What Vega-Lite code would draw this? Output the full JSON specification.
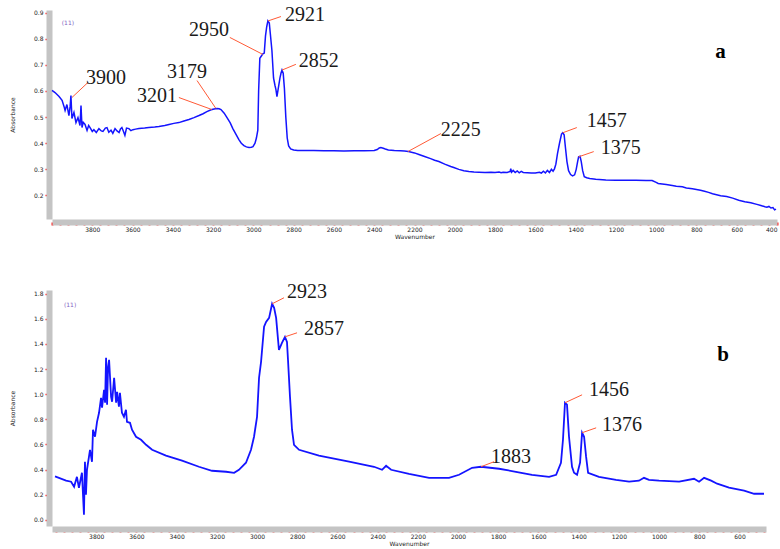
{
  "$schema": "https://vega.github.io/schema/vega-lite/v6.json",
  "background": "white",
  "padding": {"left": 9, "top": 5, "right": 0, "bottom": 0},
  "spacing": 71,
  "bounds": "flush",
  "config": {
    "view": {"stroke": null},
    "axis": {
      "grid": false,
      "labelFont": "DejaVu Sans",
      "labelFontSize": 6,
      "labelColor": "#222222",
      "labelOverlap": false,
      "titleFont": "DejaVu Sans",
      "titleFontSize": 6,
      "titleFontWeight": "normal",
      "titleColor": "#222222",
      "domain": true,
      "ticks": true,
      "domainColor": "#c4c4c4",
      "domainWidth": 6,
      "tickColor": "#ff2020",
      "offset": 3
    }
  },
  "datasets": {
    "top": [
      {"wn":4000,"a":0.602},{"wn":3985,"a":0.594},{"wn":3965,"a":0.579},{"wn":3950,"a":0.564},{"wn":3940,"a":0.540},
      {"wn":3935,"a":0.525},{"wn":3926,"a":0.548},{"wn":3916,"a":0.506},{"wn":3910,"a":0.540},{"wn":3906,"a":0.583},
      {"wn":3901,"a":0.495},{"wn":3891,"a":0.518},{"wn":3881,"a":0.479},{"wn":3871,"a":0.498},{"wn":3861,"a":0.468},
      {"wn":3856,"a":0.544},{"wn":3851,"a":0.460},{"wn":3845,"a":0.480},{"wn":3836,"a":0.472},{"wn":3826,"a":0.449},
      {"wn":3818,"a":0.468},{"wn":3811,"a":0.460},{"wn":3800,"a":0.445},{"wn":3792,"a":0.452},{"wn":3780,"a":0.441},
      {"wn":3767,"a":0.456},{"wn":3755,"a":0.447},{"wn":3747,"a":0.445},{"wn":3735,"a":0.458},{"wn":3727,"a":0.460},
      {"wn":3718,"a":0.442},{"wn":3707,"a":0.450},{"wn":3698,"a":0.438},{"wn":3687,"a":0.456},{"wn":3677,"a":0.447},
      {"wn":3667,"a":0.441},{"wn":3660,"a":0.455},{"wn":3653,"a":0.460},{"wn":3645,"a":0.445},{"wn":3638,"a":0.430},
      {"wn":3630,"a":0.458},{"wn":3618,"a":0.456},{"wn":3608,"a":0.448},{"wn":3598,"a":0.452},{"wn":3585,"a":0.454},
      {"wn":3568,"a":0.456},{"wn":3540,"a":0.458},{"wn":3519,"a":0.460},{"wn":3490,"a":0.462},{"wn":3469,"a":0.464},
      {"wn":3440,"a":0.468},{"wn":3419,"a":0.472},{"wn":3395,"a":0.476},{"wn":3370,"a":0.479},{"wn":3345,"a":0.485},
      {"wn":3320,"a":0.491},{"wn":3295,"a":0.498},{"wn":3270,"a":0.506},{"wn":3250,"a":0.513},{"wn":3231,"a":0.521},
      {"wn":3210,"a":0.528},{"wn":3195,"a":0.531},{"wn":3181,"a":0.533},{"wn":3170,"a":0.532},{"wn":3161,"a":0.529},
      {"wn":3145,"a":0.515},{"wn":3131,"a":0.498},{"wn":3115,"a":0.478},{"wn":3102,"a":0.456},{"wn":3085,"a":0.432},
      {"wn":3072,"a":0.414},{"wn":3060,"a":0.400},{"wn":3047,"a":0.391},{"wn":3035,"a":0.386},{"wn":3022,"a":0.384},
      {"wn":3010,"a":0.385},{"wn":3002,"a":0.387},{"wn":2992,"a":0.400},{"wn":2985,"a":0.420},{"wn":2978,"a":0.450},
      {"wn":2974,"a":0.600},{"wn":2968,"a":0.725},{"wn":2962,"a":0.732},{"wn":2953,"a":0.742},{"wn":2946,"a":0.745},
      {"wn":2940,"a":0.810},{"wn":2934,"a":0.845},{"wn":2928,"a":0.868},{"wn":2921,"a":0.860},{"wn":2916,"a":0.820},
      {"wn":2908,"a":0.755},{"wn":2900,"a":0.650},{"wn":2893,"a":0.622},{"wn":2888,"a":0.605},{"wn":2883,"a":0.578},
      {"wn":2876,"a":0.612},{"wn":2868,"a":0.650},{"wn":2863,"a":0.668},{"wn":2858,"a":0.680},{"wn":2852,"a":0.668},
      {"wn":2846,"a":0.610},{"wn":2839,"a":0.500},{"wn":2832,"a":0.420},{"wn":2825,"a":0.390},{"wn":2815,"a":0.378},
      {"wn":2800,"a":0.374},{"wn":2780,"a":0.372},{"wn":2740,"a":0.372},{"wn":2700,"a":0.372},{"wn":2650,"a":0.371},
      {"wn":2600,"a":0.371},{"wn":2550,"a":0.370},{"wn":2500,"a":0.371},{"wn":2450,"a":0.371},{"wn":2400,"a":0.372},
      {"wn":2385,"a":0.376},{"wn":2375,"a":0.382},{"wn":2367,"a":0.384},{"wn":2355,"a":0.381},{"wn":2345,"a":0.378},
      {"wn":2330,"a":0.374},{"wn":2300,"a":0.372},{"wn":2270,"a":0.371},{"wn":2250,"a":0.370},{"wn":2230,"a":0.368},
      {"wn":2200,"a":0.363},{"wn":2178,"a":0.357},{"wn":2150,"a":0.349},{"wn":2120,"a":0.341},{"wn":2100,"a":0.335},
      {"wn":2079,"a":0.330},{"wn":2050,"a":0.320},{"wn":2020,"a":0.311},{"wn":2005,"a":0.307},{"wn":1980,"a":0.300},
      {"wn":1955,"a":0.295},{"wn":1930,"a":0.292},{"wn":1905,"a":0.290},{"wn":1880,"a":0.289},{"wn":1850,"a":0.288},
      {"wn":1820,"a":0.289},{"wn":1800,"a":0.288},{"wn":1780,"a":0.290},{"wn":1770,"a":0.287},{"wn":1760,"a":0.289},
      {"wn":1740,"a":0.288},{"wn":1725,"a":0.292},{"wn":1722,"a":0.303},{"wn":1718,"a":0.289},{"wn":1710,"a":0.296},
      {"wn":1700,"a":0.288},{"wn":1690,"a":0.294},{"wn":1680,"a":0.287},{"wn":1670,"a":0.292},{"wn":1660,"a":0.288},
      {"wn":1640,"a":0.287},{"wn":1620,"a":0.286},{"wn":1600,"a":0.286},{"wn":1580,"a":0.289},{"wn":1570,"a":0.286},
      {"wn":1560,"a":0.293},{"wn":1550,"a":0.286},{"wn":1540,"a":0.296},{"wn":1530,"a":0.288},{"wn":1520,"a":0.300},
      {"wn":1512,"a":0.293},{"wn":1505,"a":0.302},{"wn":1498,"a":0.320},{"wn":1490,"a":0.360},{"wn":1480,"a":0.400},
      {"wn":1470,"a":0.435},{"wn":1464,"a":0.440},{"wn":1457,"a":0.432},{"wn":1450,"a":0.380},{"wn":1443,"a":0.330},
      {"wn":1435,"a":0.295},{"wn":1425,"a":0.280},{"wn":1415,"a":0.275},{"wn":1405,"a":0.279},{"wn":1397,"a":0.300},
      {"wn":1390,"a":0.330},{"wn":1385,"a":0.348},{"wn":1378,"a":0.350},{"wn":1372,"a":0.330},{"wn":1365,"a":0.295},
      {"wn":1357,"a":0.272},{"wn":1345,"a":0.268},{"wn":1330,"a":0.265},{"wn":1300,"a":0.262},{"wn":1250,"a":0.259},
      {"wn":1200,"a":0.258},{"wn":1150,"a":0.258},{"wn":1100,"a":0.258},{"wn":1050,"a":0.257},{"wn":1020,"a":0.257},
      {"wn":1000,"a":0.250},{"wn":990,"a":0.246},{"wn":950,"a":0.242},{"wn":920,"a":0.238},{"wn":900,"a":0.235},
      {"wn":870,"a":0.233},{"wn":850,"a":0.229},{"wn":820,"a":0.226},{"wn":800,"a":0.223},{"wn":780,"a":0.220},
      {"wn":760,"a":0.216},{"wn":740,"a":0.212},{"wn":720,"a":0.207},{"wn":700,"a":0.203},{"wn":680,"a":0.199},
      {"wn":650,"a":0.196},{"wn":620,"a":0.190},{"wn":590,"a":0.182},{"wn":560,"a":0.176},{"wn":530,"a":0.172},
      {"wn":500,"a":0.166},{"wn":480,"a":0.162},{"wn":460,"a":0.157},{"wn":450,"a":0.155},{"wn":440,"a":0.158},
      {"wn":430,"a":0.152},{"wn":420,"a":0.154},{"wn":412,"a":0.145},{"wn":405,"a":0.148}
    ],
    "bottom": [
      {"wn":4005,"a":0.345},{"wn":3950,"a":0.311},{"wn":3925,"a":0.303},{"wn":3910,"a":0.263},{"wn":3896,"a":0.342},
      {"wn":3886,"a":0.255},{"wn":3871,"a":0.374},{"wn":3861,"a":0.040},{"wn":3856,"a":0.462},{"wn":3851,"a":0.199},
      {"wn":3846,"a":0.398},{"wn":3831,"a":0.557},{"wn":3821,"a":0.462},{"wn":3816,"a":0.717},{"wn":3806,"a":0.661},
      {"wn":3796,"a":0.780},{"wn":3786,"a":0.852},{"wn":3776,"a":0.971},{"wn":3771,"a":0.892},{"wn":3761,"a":1.035},
      {"wn":3756,"a":0.932},{"wn":3751,"a":1.290},{"wn":3746,"a":0.916},{"wn":3741,"a":1.218},{"wn":3736,"a":1.274},
      {"wn":3726,"a":0.979},{"wn":3721,"a":0.940},{"wn":3711,"a":1.131},{"wn":3701,"a":0.932},{"wn":3696,"a":1.019},
      {"wn":3687,"a":0.900},{"wn":3682,"a":1.011},{"wn":3672,"a":0.852},{"wn":3662,"a":0.820},{"wn":3652,"a":0.876},
      {"wn":3647,"a":0.780},{"wn":3632,"a":0.772},{"wn":3622,"a":0.717},{"wn":3602,"a":0.661},{"wn":3577,"a":0.637},
      {"wn":3552,"a":0.597},{"wn":3522,"a":0.557},{"wn":3453,"a":0.510},{"wn":3373,"a":0.470},{"wn":3289,"a":0.422},
      {"wn":3224,"a":0.390},{"wn":3154,"a":0.382},{"wn":3114,"a":0.374},{"wn":3090,"a":0.398},{"wn":3055,"a":0.454},
      {"wn":3030,"a":0.557},{"wn":3015,"a":0.661},{"wn":3000,"a":0.820},{"wn":2990,"a":1.131},{"wn":2980,"a":1.258},
      {"wn":2965,"a":1.537},{"wn":2955,"a":1.576},{"wn":2940,"a":1.608},{"wn":2925,"a":1.720},{"wn":2915,"a":1.688},
      {"wn":2905,"a":1.608},{"wn":2891,"a":1.353},{"wn":2876,"a":1.409},{"wn":2861,"a":1.457},{"wn":2851,"a":1.417},
      {"wn":2846,"a":1.274},{"wn":2836,"a":0.979},{"wn":2826,"a":0.717},{"wn":2816,"a":0.597},{"wn":2791,"a":0.557},
      {"wn":2692,"a":0.510},{"wn":2542,"a":0.462},{"wn":2418,"a":0.422},{"wn":2378,"a":0.398},{"wn":2358,"a":0.430},
      {"wn":2333,"a":0.398},{"wn":2244,"a":0.366},{"wn":2144,"a":0.334},{"wn":2045,"a":0.334},{"wn":1995,"a":0.358},
      {"wn":1930,"a":0.414},{"wn":1886,"a":0.422},{"wn":1796,"a":0.406},{"wn":1712,"a":0.382},{"wn":1632,"a":0.358},
      {"wn":1547,"a":0.342},{"wn":1512,"a":0.358},{"wn":1488,"a":0.454},{"wn":1478,"a":0.637},{"wn":1468,"a":0.932},
      {"wn":1458,"a":0.916},{"wn":1448,"a":0.661},{"wn":1433,"a":0.422},{"wn":1423,"a":0.374},{"wn":1408,"a":0.358},
      {"wn":1393,"a":0.454},{"wn":1383,"a":0.693},{"wn":1373,"a":0.661},{"wn":1363,"a":0.502},{"wn":1353,"a":0.374},
      {"wn":1299,"a":0.342},{"wn":1214,"a":0.318},{"wn":1149,"a":0.303},{"wn":1100,"a":0.311},{"wn":1075,"a":0.334},
      {"wn":1050,"a":0.318},{"wn":1000,"a":0.311},{"wn":900,"a":0.303},{"wn":826,"a":0.326},{"wn":801,"a":0.303},
      {"wn":776,"a":0.334},{"wn":741,"a":0.311},{"wn":711,"a":0.287},{"wn":652,"a":0.255},{"wn":577,"a":0.231},
      {"wn":527,"a":0.207},{"wn":478,"a":0.207}
    ],
    "topNotes": [
      {"label":"3900","wn":3901,"a":0.575,"wn2":3821,"a2":0.633,"tw":3732,"ta":0.648},
      {"label":"3201","wn":3206,"a":0.529,"wn2":3370,"a2":0.575,"tw":3479,"ta":0.579},
      {"label":"3179","wn":3186,"a":0.533,"wn2":3280,"a2":0.640,"tw":3330,"ta":0.671},
      {"label":"2950","wn":2953,"a":0.740,"wn2":3117,"a2":0.805,"tw":3221,"ta":0.832},
      {"label":"2921","wn":2928,"a":0.868,"wn2":2863,"a2":0.885,"tw":2744,"ta":0.889},
      {"label":"2852","wn":2858,"a":0.680,"wn2":2789,"a2":0.702,"tw":2675,"ta":0.713},
      {"label":"2225","wn":2233,"a":0.368,"wn2":2069,"a2":0.437,"tw":1970,"ta":0.452},
      {"label":"1457","wn":1464,"a":0.440,"wn2":1394,"a2":0.460,"tw":1246,"ta":0.487},
      {"label":"1375","wn":1385,"a":0.348,"wn2":1310,"a2":0.368,"tw":1176,"ta":0.380}
    ],
    "bottomNotes": [
      {"label":"2923","wn":2925,"a":1.720,"wn2":2866,"a2":1.768,"tw":2751,"ta":1.815},
      {"label":"2857","wn":2861,"a":1.457,"wn2":2801,"a2":1.489,"tw":2667,"ta":1.521},
      {"label":"1883","wn":1886,"a":0.422,"wn2":1821,"a2":0.462,"tw":1736,"ta":0.502},
      {"label":"1456","wn":1468,"a":0.932,"wn2":1383,"a2":0.995,"tw":1249,"ta":1.035},
      {"label":"1376","wn":1383,"a":0.693,"wn2":1313,"a2":0.732,"tw":1184,"ta":0.756}
    ],
    "topTags": [{"t":"a","wn":680,"a":0.748}],
    "bottomTags": [{"t":"b","wn":682,"a":1.314}],
    "topId": [{"t":"(11)","wn":3921,"a":0.859}],
    "bottomId": [{"t":"(11)","wn":3930,"a":1.712}]
  },
  "resolve": {"scale": {"x": "independent", "y": "independent"}},
  "vconcat": [
    {
      "width": 725,
      "height": 209,
      "encoding": {
        "x": {"type": "quantitative",
          "scale": {"domain": [400, 4000], "reverse": true, "nice": false, "zero": false},
          "axis": {"title": "Wavenumber", "titlePadding": 1, "labelPadding": 1, "tickSize": 3, "tickWidth": 2, "labelOverlap": false,
            "domainColor": "#c4c4c4", "domainWidth": 6, "tickColor": "#ff2020",
            "values": [4000,3960,3920,3880,3840,3800,3760,3720,3680,3640,3600,3560,3520,3480,3440,3400,3360,3320,3280,3240,3200,3160,3120,3080,3040,3000,2960,2920,2880,2840,2800,2760,2720,2680,2640,2600,2560,2520,2480,2440,2400,2360,2320,2280,2240,2200,2160,2120,2080,2040,2000,1960,1920,1880,1840,1800,1760,1720,1680,1640,1600,1560,1520,1480,1440,1400,1360,1320,1280,1240,1200,1160,1120,1080,1040,1000,960,920,880,840,800,760,720,680,640,600,560,520,480,440,400],
            "labelExpr": "datum.value % 200 === 0 && datum.value < 4000 ? format(datum.value, 'd') : ''"}},
        "y": {"type": "quantitative",
          "scale": {"domain": [0.11, 0.91], "nice": false, "zero": false},
          "axis": {"title": "Absorbance", "titlePadding": 18, "labelPadding": 2, "tickSize": 4, "tickWidth": 1.5, "labelOverlap": false,
            "domainColor": "#c4c4c4", "domainWidth": 6, "tickColor": "#ff2020",
            "values": [0.2,0.3,0.4,0.5,0.6,0.7,0.8,0.9], "format": ".1f"}}
      },
      "layer": [
        {
          "data": {"name": "top"},
          "mark": {"type": "line", "color": "#1414ff", "strokeWidth": 1.5},
          "encoding": {
            "x": {"field": "wn", "type": "quantitative"},
            "y": {"field": "a", "type": "quantitative"}
          }
        },
        {
          "data": {"name": "topNotes"},
          "mark": {"type": "rule", "color": "#ff5a36", "strokeWidth": 1},
          "encoding": {
            "x": {"field": "wn", "type": "quantitative"},
            "y": {"field": "a", "type": "quantitative"},
            "x2": {"field": "wn2"},
            "y2": {"field": "a2"}
          }
        },
        {
          "data": {"name": "topNotes"},
          "mark": {"type": "text", "font": "Liberation Serif", "fontSize": 20, "color": "#1a1a1a", "align": "center", "baseline": "middle"},
          "encoding": {
            "x": {"field": "tw", "type": "quantitative"},
            "y": {"field": "ta", "type": "quantitative"},
            "text": {"field": "label"}
          }
        },
        {
          "data": {"name": "topTags"},
          "mark": {"type": "text", "font": "Liberation Serif", "fontSize": 21, "fontWeight": "bold", "color": "#000000", "align": "center", "baseline": "middle"},
          "encoding": {
            "x": {"field": "wn", "type": "quantitative"},
            "y": {"field": "a", "type": "quantitative"},
            "text": {"field": "t"}
          }
        },
        {
          "data": {"name": "topId"},
          "mark": {"type": "text", "font": "DejaVu Sans", "fontSize": 6, "color": "#7f5fbf", "align": "center", "baseline": "middle"},
          "encoding": {
            "x": {"field": "wn", "type": "quantitative"},
            "y": {"field": "a", "type": "quantitative"},
            "text": {"field": "t"}
          }
        }
      ]
    },
    {
      "width": 714,
      "height": 236,
      "encoding": {
        "x": {"type": "quantitative",
          "scale": {"domain": [468, 4020], "reverse": true, "nice": false, "zero": false},
          "axis": {"title": "Wavenumber", "titlePadding": 1, "labelPadding": 1, "tickSize": 3, "tickWidth": 2, "labelOverlap": false,
            "domainColor": "#c4c4c4", "domainWidth": 6, "tickColor": "#ff2020",
            "values": [4000,3960,3920,3880,3840,3800,3760,3720,3680,3640,3600,3560,3520,3480,3440,3400,3360,3320,3280,3240,3200,3160,3120,3080,3040,3000,2960,2920,2880,2840,2800,2760,2720,2680,2640,2600,2560,2520,2480,2440,2400,2360,2320,2280,2240,2200,2160,2120,2080,2040,2000,1960,1920,1880,1840,1800,1760,1720,1680,1640,1600,1560,1520,1480,1440,1400,1360,1320,1280,1240,1200,1160,1120,1080,1040,1000,960,920,880,840,800,760,720,680,640,600,560,520,480],
            "labelExpr": "datum.value % 200 === 0 && datum.value < 4000 ? format(datum.value, 'd') : ''"}},
        "y": {"type": "quantitative",
          "scale": {"domain": [-0.05, 1.83], "nice": false, "zero": false},
          "axis": {"title": "Absorbance", "titlePadding": 18, "labelPadding": 2, "tickSize": 4, "tickWidth": 1.5, "labelOverlap": false,
            "domainColor": "#c4c4c4", "domainWidth": 6, "tickColor": "#ff2020",
            "values": [0,0.2,0.4,0.6,0.8,1.0,1.2,1.4,1.6,1.8], "format": ".1f"}}
      },
      "layer": [
        {
          "data": {"name": "bottom"},
          "mark": {"type": "line", "color": "#1414ff", "strokeWidth": 1.8},
          "encoding": {
            "x": {"field": "wn", "type": "quantitative"},
            "y": {"field": "a", "type": "quantitative"}
          }
        },
        {
          "data": {"name": "bottomNotes"},
          "mark": {"type": "rule", "color": "#ff5a36", "strokeWidth": 1},
          "encoding": {
            "x": {"field": "wn", "type": "quantitative"},
            "y": {"field": "a", "type": "quantitative"},
            "x2": {"field": "wn2"},
            "y2": {"field": "a2"}
          }
        },
        {
          "data": {"name": "bottomNotes"},
          "mark": {"type": "text", "font": "Liberation Serif", "fontSize": 20, "color": "#1a1a1a", "align": "center", "baseline": "middle"},
          "encoding": {
            "x": {"field": "tw", "type": "quantitative"},
            "y": {"field": "ta", "type": "quantitative"},
            "text": {"field": "label"}
          }
        },
        {
          "data": {"name": "bottomTags"},
          "mark": {"type": "text", "font": "Liberation Serif", "fontSize": 21, "fontWeight": "bold", "color": "#000000", "align": "center", "baseline": "middle"},
          "encoding": {
            "x": {"field": "wn", "type": "quantitative"},
            "y": {"field": "a", "type": "quantitative"},
            "text": {"field": "t"}
          }
        },
        {
          "data": {"name": "bottomId"},
          "mark": {"type": "text", "font": "DejaVu Sans", "fontSize": 6, "color": "#7f5fbf", "align": "center", "baseline": "middle"},
          "encoding": {
            "x": {"field": "wn", "type": "quantitative"},
            "y": {"field": "a", "type": "quantitative"},
            "text": {"field": "t"}
          }
        }
      ]
    }
  ]
}
